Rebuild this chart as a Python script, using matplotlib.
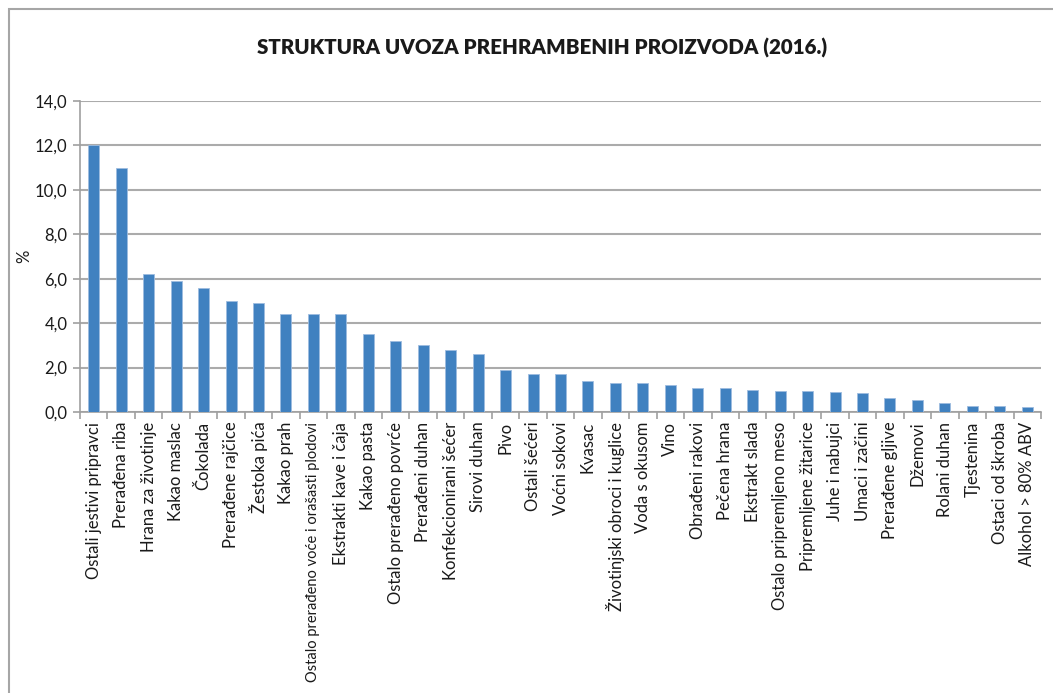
import matplotlib
matplotlib.use("Agg")
import matplotlib.pyplot as plt
from matplotlib.patches import Rectangle
import numpy as np

plt.rcParams['font.family'] = ['Lato', 'DejaVu Sans']

# data
categories = [
    'Ostali jestivi pripravci', 'Prerađena riba', 'Hrana za životinje', 'Kakao maslac',
    'Čokolada', 'Prerađene rajčice', 'Žestoka pića', 'Kakao prah',
    'Ostalo prerađeno voće i orašasti plodovi', 'Ekstrakti kave i čaja', 'Kakao pasta',
    'Ostalo prerađeno povrće', 'Prerađeni duhan', 'Konfekcionirani šećer', 'Sirovi duhan',
    'Pivo', 'Ostali šećeri', 'Voćni sokovi', 'Kvasac', 'Životinjski obroci i kuglice',
    'Voda s okusom', 'Vino', 'Obrađeni rakovi', 'Pečena hrana', 'Ekstrakt slada',
    'Ostalo pripremljeno meso', 'Pripremljene žitarice', 'Juhe i nabujci', 'Umaci i začini',
    'Prerađene gljive', 'Džemovi', 'Rolani duhan', 'Tjestenina', 'Ostaci od škroba',
    'Alkohol > 80% ABV',
]
values = [
    12.0, 11.0, 6.2, 5.9, 5.6, 5.0, 4.9, 4.4, 4.4, 4.4, 3.5, 3.2, 3.0, 2.8, 2.6,
    1.9, 1.7, 1.7, 1.4, 1.3, 1.3, 1.2, 1.1, 1.1, 1.0, 0.93, 0.93, 0.89, 0.87,
    0.62, 0.54, 0.42, 0.28, 0.28, 0.24,
]
yticks = [0, 2, 4, 6, 8, 10, 12, 14]
title = 'STRUKTURA UVOZA PREHRAMBENIH PROIZVODA (2016.)'

fig = plt.figure(figsize=(10.53, 6.93), dpi=100)
ax = fig.add_axes([80 / 1053, 1 - 412 / 693, (1041 - 80) / 1053, (412 - 101) / 693])

# outer chart frame (left + top visible, runs off right/bottom)
fig.patches.append(Rectangle((8.5 / 1053, -0.1), 1.2, 1 - 9 / 693 + 0.1,
                             transform=fig.transFigure, fill=False,
                             edgecolor='#A6A6A6', linewidth=1.5))

x = np.arange(len(categories))
ax.bar(x, values, width=0.4, color='#4081C0', edgecolor='#9DBCE0', linewidth=0.6, zorder=3)

ax.set_xlim(-0.5, len(categories) - 0.5)
ax.set_ylim(0, 14)
ax.set_yticks(yticks)
ax.set_yticklabels([f'{v:.1f}'.replace('.', ',') for v in yticks], fontsize=12, color='#1a1a1a')
ax.set_xticks(x)
ax.set_xticklabels(categories, rotation=90, fontsize=12, color='#1a1a1a')
for lbl in ax.get_xticklabels():
    if lbl.get_text().startswith('Ostalo prerađeno voće'):
        lbl.set_fontsize(10.5)
ax.set_xticks(np.arange(len(categories) + 1) - 0.5, minor=True)
ax.tick_params(axis='x', which='major', length=0, pad=7)
ax.tick_params(axis='x', which='minor', length=5, color='#A0A0A0', width=1.2)
ax.tick_params(axis='y', length=5, color='#A0A0A0', width=1.2, pad=4)

ax.grid(axis='y', color='#ABABAB', linewidth=1.5, zorder=0)
for s in ['top', 'right']:
    ax.spines[s].set_visible(False)
for s in ['left', 'bottom']:
    ax.spines[s].set_color('#A0A0A0')
    ax.spines[s].set_linewidth(1.2)

ax.set_ylabel('%', fontsize=12, color='#1a1a1a')
ax.yaxis.set_label_coords(-48 / 961, 0.5)

fig.text(542 / 1053, 1 - 48 / 693, title, ha='center', va='center',
         fontsize=14.8, fontweight='heavy', color='#1a1a1a')

fig.savefig('out.png', dpi=100)
